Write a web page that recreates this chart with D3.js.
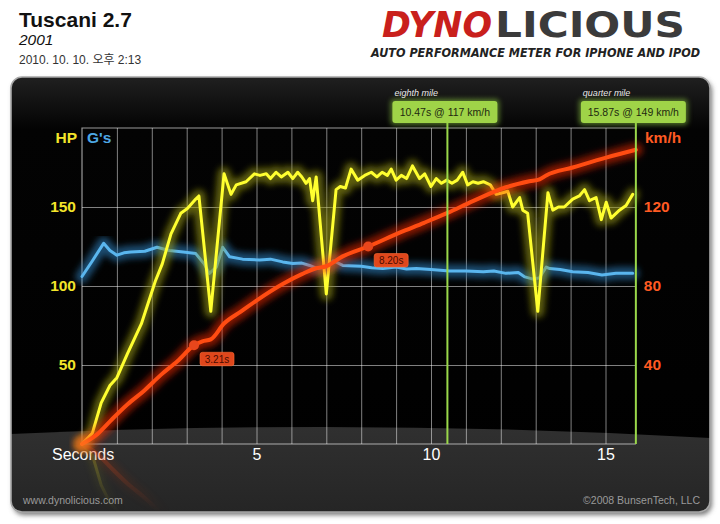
<!DOCTYPE html>
<html><head><meta charset="utf-8">
<script src="https://cdn.jsdelivr.net/npm/d3@7"></script>
<style>
html,body{margin:0;padding:0;background:#fff;}
svg{display:block;font-family:"Liberation Sans",Arial,Helvetica,sans-serif;}
</style></head>
<body>
<svg id="chart" width="720" height="524"></svg>
<script>
// ---------- data ----------
const title = "Tuscani 2.7";
const subtitle = "2001";
const dateText = "2010. 10. 10. 오후 2:13";
const hpTicks = [50, 100, 150];
const speedTicks = [40, 80, 120];
const secondTicks = [5, 10, 15];
// horsepower [seconds, hp]
const hpSeries = [[0,0],[0.3,7],[0.55,26],[0.8,37],[1.0,42],[1.3,57],[1.7,76],[2.1,103],[2.3,114],[2.55,133],[2.83,146],[3.02,149],[3.26,155],[3.35,157],[3.69,84],[4.07,171],[4.27,158],[4.42,164],[4.7,166],[4.94,171],[5.1,170],[5.28,171],[5.4,168],[5.56,172],[5.71,169],[5.9,172],[6.04,168],[6.18,172],[6.3,169],[6.42,165],[6.52,168],[6.61,154],[6.71,169],[7.0,95],[7.28,161],[7.4,163],[7.55,162],[7.71,174],[7.9,167],[8.1,170],[8.29,172],[8.45,169],[8.6,172],[8.75,170],[8.86,174],[9.0,167],[9.15,170],[9.3,168],[9.47,176],[9.67,168],[9.82,171],[10.0,163],[10.15,168],[10.3,165],[10.45,167],[10.6,165],[10.75,167],[10.91,172],[11.05,164],[11.2,166],[11.35,165],[11.5,166],[11.7,164],[11.87,158],[12.05,159],[12.2,160],[12.34,150],[12.54,156],[12.63,148],[12.77,146],[13.06,84],[13.35,159],[13.49,148],[13.65,150],[13.82,150],[14.06,155],[14.25,157],[14.4,161],[14.54,154],[14.73,156],[14.88,142],[15.02,153],[15.16,143],[15.4,148],[15.59,151],[15.78,158]];
// acceleration [seconds, g]
const gSeries = [[0,0.424],[0.3,0.464],[0.62,0.508],[0.8,0.49],[1.0,0.478],[1.2,0.484],[1.4,0.486],[1.8,0.488],[2.15,0.498],[2.5,0.49],[2.9,0.486],[3.26,0.482],[3.5,0.456],[3.65,0.432],[3.85,0.448],[4.03,0.498],[4.23,0.474],[4.6,0.468],[5.09,0.466],[5.4,0.468],[5.75,0.461],[6.04,0.457],[6.3,0.458],[6.52,0.452],[6.75,0.444],[7.0,0.448],[7.2,0.464],[7.47,0.452],[8.0,0.45],[8.3,0.446],[8.62,0.444],[9.0,0.448],[9.3,0.443],[9.58,0.444],[10.0,0.442],[10.53,0.438],[11.0,0.438],[11.5,0.436],[11.8,0.438],[12.15,0.432],[12.5,0.434],[12.69,0.423],[12.9,0.418],[13.1,0.42],[13.3,0.448],[13.4,0.444],[13.7,0.442],[14.06,0.436],[14.5,0.434],[14.9,0.428],[15.3,0.432],[15.78,0.432]];
// speed [seconds, km/h]
const speedSeries = [[0,0],[0.44,5],[0.83,12],[1.3,20],[1.78,27],[2.26,35],[2.74,42],[3.21,50],[3.45,52],[3.69,53],[4.07,61],[4.55,67],[5.03,73],[5.75,81],[6.3,86],[6.71,89],[7.0,90],[7.47,95],[8.2,100],[9.1,107],[9.8,112],[10.47,117],[11.2,123],[12.15,130],[12.82,133],[13.11,134],[13.3,136],[14.06,140],[15.02,145],[15.87,149]];
// speed milestones
const milestoneTimes = [3.21, 8.20];
const milestoneSpeeds = [50, 100];
// distance markers
const markerNames = ["eighth mile", "quarter mile"];
const markerTimes = [10.47, 15.87];
const markerSpeeds = [117, 149];

// ---------- layout ----------
const svg = d3.select("#chart");
const defs = svg.append("defs");
const x = d3.scaleLinear().domain([0, 16]).range([82, 82 + 34.9 * 16]);
const yHP = d3.scaleLinear().domain([0, 200]).range([444, 128]);
const ySpeed = d3.scaleLinear().domain([0, 160]).range([444, 128]);
const yG = d3.scaleLinear().domain([0, 0.8]).range([444, 128]);
const plotLeft = x(0), plotRight = x(markerTimes[1]), plotTop = yHP(200), plotBottom = yHP(0);

// gradients & filters
const gTop = defs.append("linearGradient").attr("id","panelGrad").attr("x1",0).attr("y1",0).attr("x2",0).attr("y2",1);
gTop.append("stop").attr("offset","0%").attr("stop-color","#202020");
gTop.append("stop").attr("offset","12%").attr("stop-color","#030303");
gTop.append("stop").attr("offset","100%").attr("stop-color","#000");
const gBand = defs.append("linearGradient").attr("id","bandGrad").attr("x1",0).attr("y1",0).attr("x2",0).attr("y2",1);
gBand.append("stop").attr("offset","0%").attr("stop-color","#303030");
gBand.append("stop").attr("offset","100%").attr("stop-color","#252525");
const blur = defs.append("filter").attr("id","glow").attr("x","-20%").attr("y","-20%").attr("width","140%").attr("height","140%");
blur.append("feGaussianBlur").attr("stdDeviation",3);
const blur2 = defs.append("filter").attr("id","soft").attr("x","-20%").attr("y","-20%").attr("width","140%").attr("height","140%");
blur2.append("feGaussianBlur").attr("stdDeviation",2.5);
const shadow = defs.append("filter").attr("id","shadow").attr("x","-5%").attr("y","-5%").attr("width","110%").attr("height","115%");
shadow.append("feGaussianBlur").attr("stdDeviation",2.5);
defs.append("clipPath").attr("id","panelClip").append("rect")
  .attr("x",11).attr("y",77).attr("width",699).attr("height",435).attr("rx",11);
defs.append("clipPath").attr("id","reflClip").append("rect")
  .attr("x",11).attr("y",plotBottom+1).attr("width",699).attr("height",70);
const rg = defs.append("linearGradient").attr("id","reflGrad").attr("x1",0).attr("y1",0).attr("x2",0).attr("y2",1)
  .attr("gradientUnits","userSpaceOnUse").attr("y1",plotBottom).attr("y2",512);
rg.append("stop").attr("offset","0%").attr("stop-color","#fff").attr("stop-opacity",0.45);
rg.append("stop").attr("offset","100%").attr("stop-color","#fff").attr("stop-opacity",0);
defs.append("mask").attr("id","reflMask").attr("maskUnits","userSpaceOnUse")
  .attr("x",0).attr("y",0).attr("width",720).attr("height",524)
  .append("rect").attr("x",0).attr("y",plotBottom).attr("width",720).attr("height",80).attr("fill","url(#reflGrad)");

// ---------- header ----------
svg.append("text").attr("x",19).attr("y",27).attr("font-size",21).attr("font-weight","bold").attr("fill","#111").text(title);
svg.append("text").attr("x",19).attr("y",45).attr("font-size",15.5).attr("font-style","italic").attr("fill","#111").text(subtitle);
svg.append("text").attr("x",19).attr("y",64).attr("font-size",12).attr("fill","#333")
  .style("font-family",'"Liberation Sans","Noto Sans CJK KR",sans-serif').text(dateText);
// logo
svg.append("text").attr("x",382).attr("y",37).attr("font-size",35).attr("font-weight","bold").attr("font-style","italic")
  .attr("fill","#c9201c").attr("textLength",110).attr("lengthAdjust","spacingAndGlyphs")
  .style("font-family",'"DejaVu Sans",sans-serif').text("DYNO");
svg.append("text").attr("x",495).attr("y",37).attr("font-size",35).attr("font-weight","bold")
  .attr("fill","#3b3b3b").attr("textLength",190).attr("lengthAdjust","spacingAndGlyphs")
  .style("font-family",'"DejaVu Sans",sans-serif').text("LICIOUS");
svg.append("text").attr("x",371).attr("y",57).attr("font-size",11.5).attr("font-weight","bold").attr("font-style","italic")
  .attr("fill","#222").attr("textLength",329).attr("lengthAdjust","spacingAndGlyphs")
  .style("font-family",'"DejaVu Sans",sans-serif').text("AUTO PERFORMANCE METER FOR IPHONE AND IPOD");

// ---------- panel ----------
svg.append("rect").attr("x",13).attr("y",80).attr("width",699).attr("height",435).attr("rx",11)
  .attr("fill","#777").attr("filter","url(#shadow)");
svg.append("rect").attr("x",11).attr("y",77).attr("width",699).attr("height",435).attr("rx",11)
  .attr("fill","url(#panelGrad)");
const panel = svg.append("g").attr("clip-path","url(#panelClip)");
panel.append("path").attr("d","M10,434 Q360,418 711,438 L711,513 L10,513 Z").attr("fill","url(#bandGrad)");
svg.append("rect").attr("x",11).attr("y",77).attr("width",699).attr("height",435).attr("rx",11)
  .attr("fill","none").attr("stroke","#a8a8a8").attr("stroke-width",1.6);

// ---------- grid ----------
const gridCol = "rgba(255,255,255,0.5)";
const gx = svg.append("g").attr("transform",`translate(0,${plotBottom})`)
  .call(d3.axisBottom(x).tickValues(d3.range(1,16)).tickSize(-(plotBottom-plotTop)).tickFormat(""));
gx.select(".domain").remove();
gx.selectAll("line").attr("stroke",gridCol).attr("stroke-width",1);
const gy = svg.append("g").attr("transform",`translate(${plotLeft},0)`)
  .call(d3.axisLeft(yHP).tickValues(hpTicks).tickSize(-(plotRight-plotLeft)).tickFormat(""));
gy.select(".domain").remove();
gy.selectAll("line").attr("stroke",gridCol).attr("stroke-width",1);
// border lines
svg.append("path").attr("d",`M${plotRight},${plotTop}H${plotLeft}V${plotBottom}H${plotRight}`)
  .attr("fill","none").attr("stroke","rgba(255,255,255,0.6)").attr("stroke-width",1.2);

// ---------- axes labels ----------
const lhp = svg.append("g").attr("transform",`translate(${plotLeft},0)`)
  .call(d3.axisLeft(yHP).tickValues(hpTicks).tickSize(0).tickPadding(6));
lhp.select(".domain").remove();
lhp.selectAll("text").attr("fill","#f3e52a").attr("font-size",15.5).attr("font-weight","bold").style("font-family","inherit");
const lsp = svg.append("g").attr("transform",`translate(${plotRight},0)`)
  .call(d3.axisRight(ySpeed).tickValues(speedTicks).tickSize(0).tickPadding(8));
lsp.select(".domain").remove();
lsp.selectAll("text").attr("fill","#ff5a22").attr("font-size",15.5).attr("font-weight","bold").style("font-family","inherit");
const lsec = svg.append("g").attr("transform",`translate(0,${plotBottom})`)
  .call(d3.axisBottom(x).tickValues(secondTicks).tickSize(0).tickPadding(5));
lsec.select(".domain").remove();
lsec.selectAll("text").attr("fill","#fff").attr("font-size",16).style("font-family","inherit");
svg.append("text").attr("x",52).attr("y",460).attr("fill","#fff").attr("font-size",16).text("Seconds");
svg.append("text").attr("x",77).attr("y",143).attr("text-anchor","end").attr("fill","#f3e52a").attr("font-size",15.5).attr("font-weight","bold").text("HP");
svg.append("text").attr("x",87).attr("y",143).attr("fill","#4ea8e6").attr("font-size",15.5).attr("font-weight","bold").text("G's");
svg.append("text").attr("x",645).attr("y",143).attr("fill","#ff5a22").attr("font-size",15.5).attr("font-weight","bold").text("km/h");

// ---------- footer ----------
svg.append("text").attr("x",23).attr("y",504).attr("fill","#9a9a9a").attr("font-size",10.5).text("www.dynolicious.com");
svg.append("text").attr("x",700).attr("y",504).attr("text-anchor","end").attr("fill","#9a9a9a").attr("font-size",10.5).text("©2008 BunsenTech, LLC");

// ---------- lines ----------
const lineHP = d3.line().x(d => x(d[0])).y(d => yHP(d[1]));
const lineG = d3.line().x(d => x(d[0])).y(d => yG(d[1]));
const lineSp = d3.line().x(d => x(d[0])).y(d => ySpeed(d[1])).curve(d3.curveMonotoneX);

function drawGlow(g, data, gen, core, halo, w, hw, ho) {
  g.append("path").datum(data).attr("d", gen).attr("fill","none").attr("stroke",halo)
    .attr("stroke-width",hw).attr("stroke-opacity",ho).attr("stroke-linejoin","round").attr("stroke-linecap","round")
    .attr("filter","url(#glow)");
  g.append("path").datum(data).attr("d", gen).attr("fill","none").attr("stroke",core)
    .attr("stroke-width",w).attr("stroke-linejoin","round").attr("stroke-linecap","round");
}
// reflection
const refl = svg.append("g").attr("clip-path","url(#reflClip)").append("g").attr("mask","url(#reflMask)")
  .append("g").attr("transform",`translate(0,${2*plotBottom}) scale(1,-1)`);
drawGlow(refl, hpSeries, lineHP, "#c8c020", "#8a8a10", 3, 10, 0.5);
drawGlow(refl, speedSeries, lineSp, "#e04010", "#c03000", 4, 12, 0.5);

const lines = svg.append("g");
drawGlow(lines, gSeries, lineG, "#5ab6ee", "#2f86c8", 3, 13, 0.55);
drawGlow(lines, hpSeries, lineHP, "#ffff30", "#9a9a10", 3, 13, 0.6);
drawGlow(lines, speedSeries, lineSp, "#ff4c12", "#ff2a00", 4, 14, 0.5);
lines.append("circle").attr("cx",x(0)).attr("cy",plotBottom).attr("r",9).attr("fill","#ff8a20").attr("opacity",0.5).attr("filter","url(#glow)");

// ---------- milestones ----------
milestoneTimes.forEach((t,i) => {
  const cx = x(t), cy = ySpeed(milestoneSpeeds[i]);
  const g = svg.append("g");
  g.append("circle").attr("cx",cx).attr("cy",cy).attr("r",5).attr("fill","#e8461c");
  g.append("rect").attr("x",cx+6).attr("y",cy+7).attr("width",34).attr("height",13.5).attr("rx",2.5)
    .attr("fill","#e0471c").attr("stroke","#ff6a30").attr("stroke-width",0.6);
  g.append("text").attr("x",cx+23).attr("y",cy+17.6).attr("text-anchor","middle").attr("font-size",10)
    .attr("fill","#4a0c00").text(t.toFixed(2) + "s");
});

// ---------- distance markers ----------
markerTimes.forEach((t,i) => {
  const mx = x(t);
  const g = svg.append("g");
  g.append("line").attr("x1",mx).attr("x2",mx).attr("y1",122).attr("y2",plotBottom)
    .attr("stroke","#7fc030").attr("stroke-width",6).attr("stroke-opacity",0.45).attr("filter","url(#soft)");
  g.append("line").attr("x1",mx).attr("x2",mx).attr("y1",122).attr("y2",plotBottom)
    .attr("stroke","#9ad84a").attr("stroke-width",2);
  const bx = mx - 2.5 - 52.5;
  g.append("rect").attr("x",bx-2).attr("y",99).attr("width",109).attr("height",26).attr("rx",4)
    .attr("fill","#8cc840").attr("opacity",0.55).attr("filter","url(#soft)");
  g.append("rect").attr("x",bx).attr("y",101).attr("width",105).attr("height",22).attr("rx",3)
    .attr("fill","#9fd448");
  g.append("text").attr("x",bx+52.5).attr("y",116).attr("text-anchor","middle").attr("font-size",10.5)
    .attr("fill","#1e2a10").text(t.toFixed(2) + "s @ " + markerSpeeds[i] + " km/h");
  g.append("text").attr("x",bx+2).attr("y",96).attr("font-size",9).attr("font-style","italic")
    .attr("fill","#e8e8e8").text(markerNames[i]);
});
</script>
</body></html>
